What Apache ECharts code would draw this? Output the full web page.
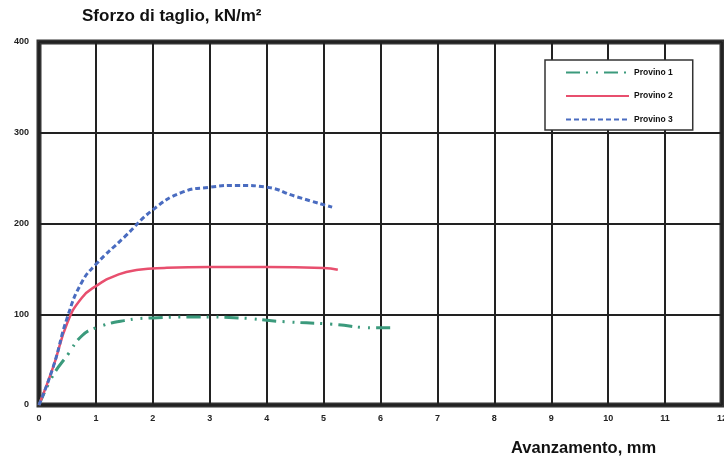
<!DOCTYPE html>
<html>
<head>
<meta charset="utf-8">
<script src="https://cdn.jsdelivr.net/npm/echarts@6/dist/echarts.min.js"></script>
<style>
  html, body { margin: 0; padding: 0; background: #fff; }
  #main { width: 724px; height: 458px; }
</style>
</head>
<body>
<div id="main"></div>
<script>
// dati: [avanzamento mm, sforzo kN/m2]
var provino1 = [[0,0],[0.25,33],[0.5,55],[0.75,76],[1.0,85],[1.5,93],[2,96],[2.75,97],[3.5,96],[4.25,92],[5.15,89],[5.9,85],[6.2,85]]
var provino2 = [[0,0],[0.25,42],[0.5,91],[0.75,118],[1.0,131],[1.4,144],[1.75,149],[2.2,151],[3,152],[4,152],[5,151],[5.25,149]]
var provino3 = [[0,0],[0.25,42],[0.5,97],[0.75,135],[1.0,155],[1.5,185],[2,215],[2.5,234],[3,240],[3.5,242],[4,240],[4.5,230],[5.15,218]]
var nomi = ['Provino 1', 'Provino 2', 'Provino 3']
var xTicks = [0, 12, 1]   // min, max, passo
var yTicks = [0, 400, 100]

var myChart = echarts.init(document.getElementById('main'))
var font = 'Liberation Sans, Arial, sans-serif'
var option = {
  backgroundColor: '#fff',
  animation: false,
  title: [
    { text: 'Sforzo di taglio, kN/m²', left: 77, top: 3,
      textStyle: { fontSize: 17, fontWeight: 'bold', color: '#111', fontFamily: font } },
    { text: 'Avanzamento, mm', left: 506, top: 435,
      textStyle: { fontSize: 16.5, fontWeight: 'bold', color: '#111', fontFamily: font } }
  ],
  legend: {
    data: nomi,
    orient: 'vertical',
    left: 545,
    top: 60,
    padding: [8, 20, 6, 20],
    itemGap: 14.5,
    itemWidth: 63,
    itemHeight: 10,
    itemStyle: { opacity: 0 },
    borderColor: '#333',
    borderWidth: 1.5,
    backgroundColor: '#fff',
    textStyle: { fontSize: 8.5, fontWeight: 'bold', color: '#111', fontFamily: font }
  },
  grid: { left: 39, right: 2, top: 42, bottom: 53, outerBoundsMode: 'none',
    show: true, borderColor: '#333', borderWidth: 5 },
  xAxis: {
    type: 'value', min: xTicks[0], max: xTicks[1], interval: xTicks[2],
    axisLine: { show: false },
    axisTick: { show: false },
    axisLabel: { fontSize: 9, fontWeight: 'bold', color: '#222', fontFamily: font, margin: 9 },
    splitLine: { lineStyle: { color: '#222', width: 2 } }
  },
  yAxis: {
    type: 'value', min: yTicks[0], max: yTicks[1], interval: yTicks[2],
    axisLine: { show: false },
    axisTick: { show: false },
    axisLabel: { fontSize: 9, fontWeight: 'bold', color: '#222', fontFamily: font, margin: 10 },
    splitLine: { lineStyle: { color: '#222', width: 2 } }
  },
  series: [
    {
      name: nomi[0], type: 'line', data: provino1, smooth: true, symbol: 'none', z: 3,
      itemStyle: { color: '#3b9a7c' },
      lineStyle: { color: '#3b9a7c', width: 3, type: [14, 6, 2, 8, 2, 6] }
    },
    {
      name: nomi[1], type: 'line', data: provino2, smooth: true, symbol: 'none', z: 4,
      itemStyle: { color: '#e84f6e' },
      lineStyle: { color: '#e84f6e', width: 2.5 }
    },
    {
      name: nomi[2], type: 'line', data: provino3, smooth: true, symbol: 'none', z: 5,
      itemStyle: { color: '#4a6cc0' },
      lineStyle: { color: '#4a6cc0', width: 3, type: [5, 3] }
    }
  ]
}
myChart.setOption(option)
</script>
</body>
</html>
